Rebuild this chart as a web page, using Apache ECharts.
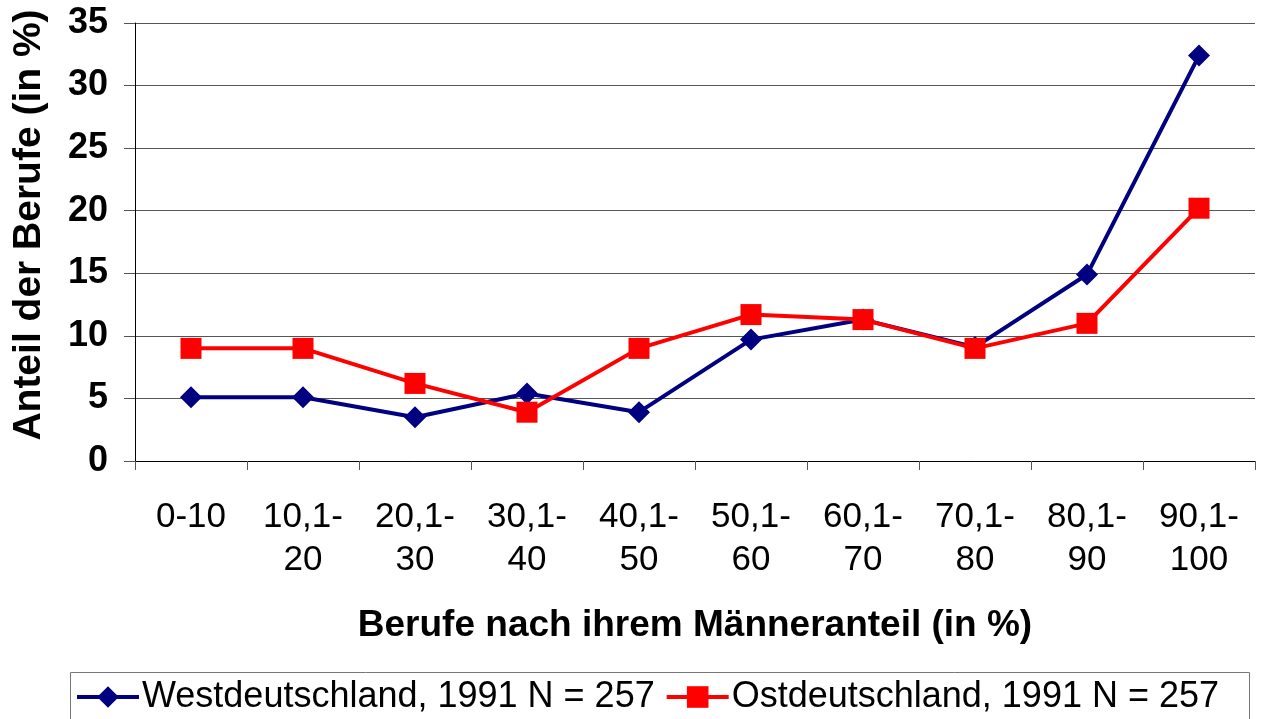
<!DOCTYPE html>
<html><head><meta charset="utf-8">
<script src="https://cdn.jsdelivr.net/npm/echarts@6/dist/echarts.min.js"></script>
<style>html,body{margin:0;padding:0;background:#fff}#c{width:1263px;height:719px}</style>
</head><body><div id="c"></div>
<script>
const categories = ['0-10','10,1-\n20','20,1-\n30','30,1-\n40','40,1-\n50','50,1-\n60','60,1-\n70','70,1-\n80','80,1-\n90','90,1-\n100'];
const westName = 'Westdeutschland, 1991 N = 257';
const eastName = 'Ostdeutschland, 1991 N = 257';
const westValues = [5.1, 5.1, 3.5, 5.4, 3.9, 9.7, 11.3, 9.1, 14.9, 32.4];
const eastValues = [9.0, 9.0, 6.2, 3.9, 9.0, 11.7, 11.3, 9.0, 11.0, 20.2];
const yTicks = [0, 5, 10, 15, 20, 25, 30, 35];
const xTitle = 'Berufe nach ihrem Männeranteil (in %)';
const yTitle = 'Anteil der Berufe (in %)';

const font = 'Liberation Sans, Arial, sans-serif';
const chart = echarts.init(document.getElementById('c'), null, {renderer: 'canvas'});
chart.setOption({
  animation: false,
  backgroundColor: '#fff',
  grid: {left: 135, right: 8, top: 23, bottom: 258, containLabel: false},
  xAxis: {
    type: 'category', data: categories, boundaryGap: true,
    axisLine: {lineStyle: {color: '#000', width: 1}},
    axisTick: {show: true, length: 9, lineStyle: {color: '#555'}},
    axisLabel: {color: '#000', fontFamily: font, fontSize: 35, margin: 35, lineHeight: 43, interval: 0, align: 'center'},
    name: xTitle, nameLocation: 'middle', nameGap: 146,
    nameTextStyle: {color: '#000', fontFamily: font, fontSize: 37, fontWeight: 'bold'}
  },
  yAxis: {
    type: 'value', min: yTicks[0], max: yTicks[yTicks.length - 1], interval: 5,
    axisLine: {show: true, lineStyle: {color: '#000', width: 1}},
    axisTick: {show: true, length: 11, lineStyle: {color: '#555'}},
    axisLabel: {color: '#000', fontFamily: font, fontSize: 36, fontWeight: 'bold', margin: 27},
    splitLine: {show: true, lineStyle: {color: '#555', width: 1}},
    name: yTitle, nameLocation: 'middle', nameGap: 86, nameRotate: 90,
    nameTextStyle: {color: '#000', fontFamily: font, fontSize: 39, fontWeight: 'bold', padding: [0, 0, 0, 34]}
  },
  legend: {
    show: true, left: 70, top: 674, itemWidth: 62, itemHeight: 27, itemGap: 10,
    lineStyle: {width: 4},
    textStyle: {color: '#000', fontFamily: font, fontSize: 36, padding: [0,0,0,-2]},
    data: [westName, eastName]
  },
  graphic: [{
    type: 'rect', left: 68, top: 670, shape: {width: 1179, height: 60},
    style: {fill: 'none', stroke: '#777', lineWidth: 1}, silent: true
  }],
  series: [
    {name: westName, type: 'line', data: westValues, symbol: 'diamond', symbolSize: 22,
     lineStyle: {color: '#000080', width: 4}, itemStyle: {color: '#000080'}, z: 2},
    {name: eastName, type: 'line', data: eastValues, symbol: 'rect', symbolSize: 21,
     lineStyle: {color: '#ff0000', width: 4}, itemStyle: {color: '#ff0000'}, z: 3}
  ]
});
</script></body></html>
